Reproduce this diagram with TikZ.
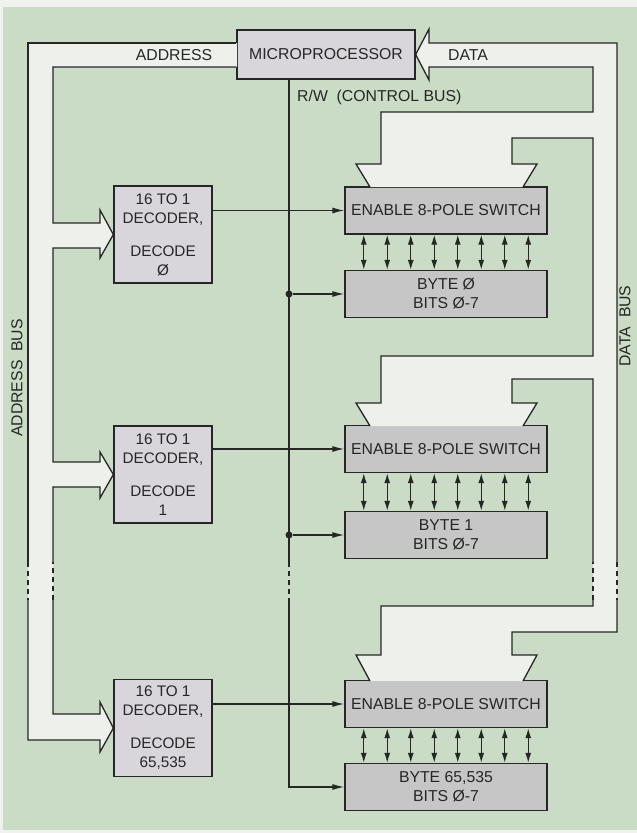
\documentclass[tikz,border=0pt]{standalone}
\usepackage{fontspec}
\setmainfont{Liberation Sans}
\usetikzlibrary{arrows.meta,positioning,calc}
\definecolor{Ink}{HTML}{262626}
\definecolor{Sage}{HTML}{CADCC6}
\definecolor{Paper}{HTML}{F1F2EF}
\definecolor{BusWhite}{HTML}{EEF0EC}
\definecolor{Lilac}{HTML}{D8D6DB}
\definecolor{Slate}{HTML}{C6C6C7}
\tikzset{
  >={Latex[length=12pt,width=6pt]},
  blk/.style={draw=Ink,line width=1.3pt,inner sep=0pt,align=center,text=Ink,font=\fontsize{15.8}{19}\selectfont},
  cpubox/.style={blk,fill=Lilac,minimum width=178pt,minimum height=49pt},
  decbox/.style={blk,fill=Lilac,minimum width=98pt,minimum height=97pt,font=\fontsize{15.3}{19}\selectfont},
  swbox/.style={blk,fill=Slate,minimum width=202pt,minimum height=47pt},
  bytebox/.style={blk,fill=Slate,minimum width=202pt,minimum height=47pt},
  wire/.style={draw=Ink,line width=1.3pt,line join=miter},
  sig/.style={wire,->},
  bidir/.style={wire,{Latex[length=10pt,width=6pt]}-{Latex[length=10pt,width=6pt]}},
  gap/.style={wire,dash pattern=on 5pt off 4pt},
  busfill/.style={fill=BusWhite,draw=none},
  lab/.style={text=Ink,font=\fontsize{15.8}{18}\selectfont,inner sep=1pt},
  dot/.style={circle,fill=Ink,inner sep=0pt,minimum size=7pt}
}
\begin{document}
\begin{tikzpicture}[x=1pt,y=-1pt]
  \useasboundingbox (0,0) rectangle (637,833);
  \fill[Paper] (0,0) rectangle (637,833);
  \fill[Sage] (3,7) rectangle (637,830);

  % blocks
  \node[cpubox] (cpu) at (326,54.5) {MICROPROCESSOR};
  \node[decbox] (dec0) at (163,234.5) {16 TO 1\\DECODER,\\[14pt]DECODE\\Ø};
  \node[decbox] (dec1) at (163,474.5) {16 TO 1\\DECODER,\\[14pt]DECODE\\1};
  \node[decbox] (dec2) at (163,728) {16 TO 1\\DECODER,\\[14pt]DECODE\\65,535};
  \node[swbox] (sw0) at (446,210.5) {ENABLE 8-POLE SWITCH};
  \node[swbox] (sw1) at (446,449) {ENABLE 8-POLE SWITCH};
  \node[swbox] (sw2) at (446,704) {ENABLE 8-POLE SWITCH};
  \node[bytebox] (byte0) at (446,294) {BYTE Ø\\BITS Ø-7};
  \node[bytebox] (byte1) at (446,535) {BYTE 1\\BITS Ø-7};
  \node[bytebox] (byte2) at (446,787) {BYTE 65,535\\BITS Ø-7};

  % address bus
  \fill[busfill] (237,43) -- (28,43) -- (28,740) -- (100,740) -- (100,752) -- (dec2.west)
    -- (100,702) -- (100,714) -- (53,714) -- (53,487) -- (100,487) -- (100,498) -- (dec1.west)
    -- (100,452) -- (100,462) -- (53,462) -- (53,248) -- (100,248) -- (100,258) -- (dec0.west)
    -- (100,210) -- (100,223) -- (53,223) -- (53,67) -- (237,67) -- cycle;
  \draw[wire] (cpu.west |- 0,43) -- (28,43) -- (28,562);
  \draw[gap] (28,562) -- (28,600);
  \draw[wire] (28,600) -- (28,740) -- (100,740) -- (100,752) -- (dec2.west)
    -- (100,702) -- (100,714) -- (53,714) -- (53,600);
  \draw[gap] (53,600) -- (53,562);
  \draw[wire] (53,562) -- (53,487) -- (100,487) -- (100,498) -- (dec1.west)
    -- (100,452) -- (100,462) -- (53,462) -- (53,248) -- (100,248) -- (100,258) -- (dec0.west)
    -- (100,210) -- (100,223) -- (53,223) -- (53,67) -- (cpu.west |- 0,67);

  % data bus
  \fill[busfill] (cpu.east) -- (429,29) -- (429,43) -- (617,43) -- (617,632) -- (512,632)
    -- (512,655) -- (537,655) -- (523,681) -- (370,681) -- (356,655) -- (381,655) -- (381,606)
    -- (593,606) -- (593,379) -- (512,379) -- (512,403) -- (537,403) -- (523,426) -- (370,426)
    -- (356,403) -- (381,403) -- (381,356) -- (593,356) -- (593,138) -- (512,138) -- (512,164)
    -- (537,164) -- (523,187) -- (370,187) -- (356,164) -- (381,164) -- (381,112) -- (593,112)
    -- (593,67) -- (429,67) -- (429,80) -- cycle;
  \draw[wire] (cpu.east) -- (429,29) -- (429,43) -- (617,43) -- (617,562);
  \draw[gap] (617,562) -- (617,600);
  \draw[wire] (617,600) -- (617,632) -- (512,632) -- (512,655) -- (537,655) -- (523,681);
  \draw[wire] (370,681) -- (356,655) -- (381,655) -- (381,606) -- (593,606) -- (593,600);
  \draw[gap] (593,600) -- (593,562);
  \draw[wire] (593,562) -- (593,379) -- (512,379) -- (512,403) -- (537,403) -- (523,426);
  \draw[wire] (370,426) -- (356,403) -- (381,403) -- (381,356) -- (593,356) -- (593,138)
    -- (512,138) -- (512,164) -- (537,164) -- (523,187);
  \draw[wire] (370,187) -- (356,164) -- (381,164) -- (381,112) -- (593,112) -- (593,67)
    -- (429,67) -- (429,80) -- (cpu.east);

  % bus labels
  \node[lab] (adrlab) at (174,55) {ADDRESS};
  \node[lab] (datlab) at (468,55) {DATA};
  \node[lab,anchor=west] (rwlab) at (296,97) {R/W\ \ (CONTROL BUS)};
  \node[lab,rotate=90] (abus) at (17,378) {ADDRESS\ \ BUS};
  \node[lab,rotate=90] (dbus) at (625,326) {DATA\ \ BUS};

  % control bus
  \coordinate (rw) at ([xshift=-37pt]cpu.south);
  \coordinate (cut1) at (rw |- 0,562);
  \coordinate (cut2) at (rw |- 0,600);
  \draw[wire] (rw) -- (cut1);
  \draw[gap] (cut1) -- (cut2);
  \draw[sig] (cut2) |- (byte2.west);
  \node[dot] (j0) at (rw |- byte0) {};
  \node[dot] (j1) at (rw |- byte1) {};
  \draw[sig] (j0) -- (byte0.west);
  \draw[sig] (j1) -- (byte1.west);

  % decoder enables
  \draw[sig] (dec0.east |- sw0.west) -- (sw0.west);
  \draw[sig] (dec1.east |- sw1.west) -- (sw1.west);
  \draw[sig] (dec2.east |- sw2.west) -- (sw2.west);

  % eight bit lines
  \foreach \k in {0,1,2}
    \foreach \i in {0,...,7}
      \draw[bidir] ([xshift={(\i-3.5)*23.5}]sw\k.south) -- ([xshift={(\i-3.5)*23.5}]byte\k.north);
\end{tikzpicture}
\end{document}
